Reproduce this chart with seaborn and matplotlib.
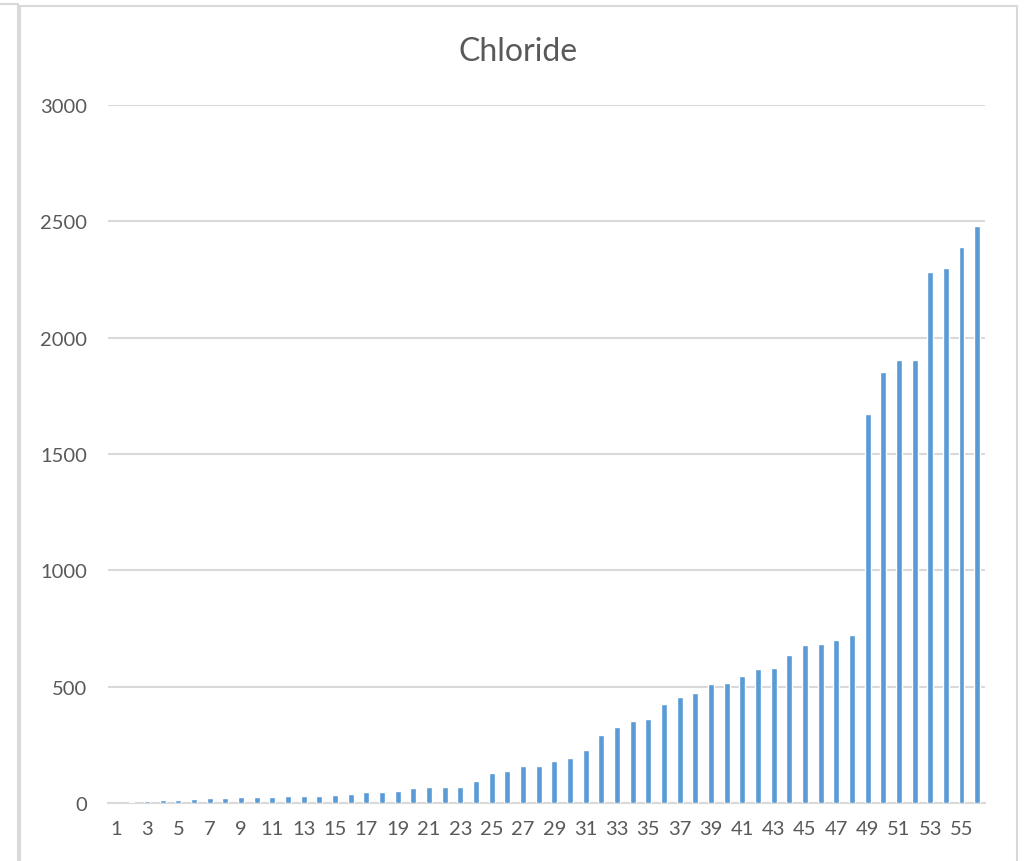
import numpy as np
import pandas as pd
import seaborn as sns
import matplotlib.pyplot as plt
from matplotlib.patches import Rectangle
from matplotlib.lines import Line2D

# данные
samples = list(range(1, 57))
chloride = [1, 4, 8, 12, 14, 18, 21, 21, 24, 24, 25, 29, 29, 32, 35, 37,
            46, 48, 51, 64, 67, 70, 70, 96, 130, 137, 157, 160, 182, 193,
            226, 292, 328, 354, 362, 424, 457, 471, 511, 517, 544, 577, 580,
            637, 679, 682, 699, 720, 1672, 1854, 1903, 1903, 2281, 2301,
            2391, 2481]
y_ticks = [0, 500, 1000, 1500, 2000, 2500, 3000]

df = pd.DataFrame({"sample": samples, "chloride": chloride})

sns.set_style("white")
plt.rcParams['font.family'] = ['Lato', 'DejaVu Sans']

text_col = "#595959"
grid_col = "#D9D9D9"

fig = plt.figure(figsize=(10.35, 8.62), dpi=100)
W, H = 1035, 862

# рамки диаграмм
fig.add_artist(Rectangle((20 / W, -0.05), 997 / W, 1.05 - 7 / H,
                         transform=fig.transFigure, fill=False,
                         edgecolor=grid_col, linewidth=1.5))
fig.add_artist(Line2D([17.5 / W, 17.5 / W], [0, 1 - 5 / H],
                      transform=fig.transFigure, color=grid_col, lw=1.5))
fig.add_artist(Line2D([0, 17.5 / W], [1 - 5 / H, 1 - 5 / H],
                      transform=fig.transFigure, color=grid_col, lw=1.5))

ax = fig.add_axes([108 / W, 1 - 804 / H, 877 / W, 698 / H])
sns.barplot(data=df, x="sample", y="chloride", color="#5B9BD5",
            width=0.38, saturation=1, ax=ax, zorder=3)

ax.set_ylim(0, 3000)
ax.set_xlim(-0.5, len(samples) - 0.5)
ax.set_yticks(y_ticks)
ax.set_yticklabels([str(v) for v in y_ticks])
ax.set_xticks(range(0, len(samples), 2))
ax.set_xticklabels([str(s) for s in samples[::2]])
ax.grid(axis="y", color=grid_col, linewidth=1.5, zorder=0)
ax.set_axisbelow(True)
for s in ["top", "right", "left"]:
    ax.spines[s].set_visible(False)
ax.spines["bottom"].set_color(grid_col)
ax.spines["bottom"].set_linewidth(1.5)
ax.tick_params(axis="both", length=0, labelsize=14.5, colors=text_col)
ax.tick_params(axis="y", pad=15)
ax.tick_params(axis="x", pad=12)
ax.set_xlabel("")
ax.set_ylabel("")

fig.text(518 / W, 1 - 52 / H, "Chloride", ha="center", va="center",
         fontsize=23, color=text_col)

fig.savefig("out.png", dpi=100)
